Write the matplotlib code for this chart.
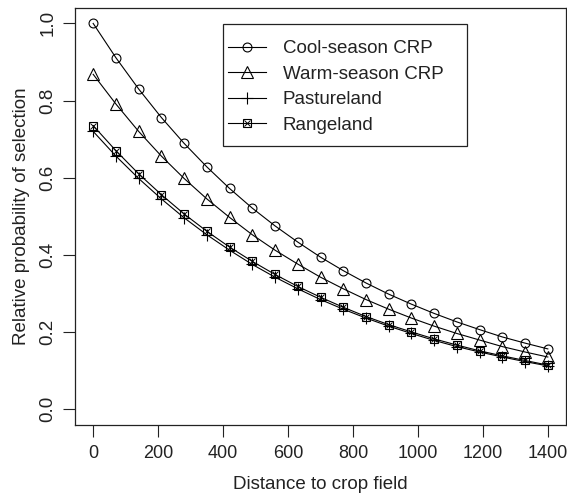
import matplotlib
matplotlib.use("Agg")
import matplotlib.pyplot as plt
from matplotlib.patches import Rectangle

plt.rcParams['font.family'] = ['Liberation Sans', 'DejaVu Sans']

# distance to crop field (every 70 units)
distance = [0, 70, 140, 210, 280, 350, 420, 490, 560, 630, 700,
            770, 840, 910, 980, 1050, 1120, 1190, 1260, 1330, 1400]

cool_season = [1.000, 0.911, 0.830, 0.756, 0.689, 0.628, 0.572, 0.521, 0.475, 0.433, 0.394,
               0.359, 0.327, 0.298, 0.272, 0.248, 0.226, 0.206, 0.187, 0.171, 0.156]
warm_season = [0.868, 0.791, 0.720, 0.656, 0.598, 0.545, 0.497, 0.452, 0.412, 0.376, 0.342,
               0.312, 0.284, 0.259, 0.236, 0.215, 0.196, 0.179, 0.162, 0.148, 0.135]
pastureland = [0.720, 0.656, 0.598, 0.545, 0.496, 0.452, 0.412, 0.375, 0.342, 0.312, 0.284,
               0.259, 0.236, 0.215, 0.196, 0.178, 0.162, 0.148, 0.135, 0.123, 0.112]
rangeland = [0.735, 0.670, 0.610, 0.556, 0.506, 0.461, 0.420, 0.383, 0.349, 0.318, 0.290,
             0.264, 0.240, 0.219, 0.200, 0.182, 0.166, 0.151, 0.138, 0.126, 0.114]

labels = ["Cool-season CRP", "Warm-season CRP", "Pastureland", "Rangeland"]
xticks = [0, 200, 400, 600, 800, 1000, 1200, 1400]
yticks = [0.0, 0.2, 0.4, 0.6, 0.8, 1.0]

fontSize = 13.5
lw = 0.8
ink = '#222222'

fig = plt.figure(figsize=(5.67, 4.93), dpi=100)
ax = fig.add_axes([75/567, 1 - 424.5/493, 491/567, 416.5/493])

h1, = ax.plot(distance, cool_season, color='black', lw=lw, marker='o', ms=6.4,
              mfc='none', mec='black', mew=0.8)
h2, = ax.plot(distance, warm_season, color='black', lw=lw, marker='^', ms=8,
              mfc='none', mec='black', mew=0.8)
h3, = ax.plot(distance, pastureland, color='black', lw=lw, marker='+', ms=9,
              mec='black', mew=0.8)
h4a, = ax.plot(distance, rangeland, color='black', lw=lw, marker='s', ms=6,
               mfc='none', mec='black', mew=0.8)
h4b, = ax.plot(distance, rangeland, color='none', lw=0, marker='x', ms=5,
               mec='black', mew=0.7)

# R style axis limits (4% extension)
ax.set_xlim(-56, 1456)
ax.set_ylim(-0.04, 1.04)
ax.set_xticks(xticks)
ax.set_xticklabels([str(t) for t in xticks])
ax.set_yticks(yticks)
ax.set_yticklabels(["%.1f" % t for t in yticks], rotation=90, va='center')

ax.tick_params(axis='both', direction='out', length=8.5, width=0.8, labelsize=fontSize, colors=ink)
ax.tick_params(axis='x', pad=6, labelsize=13)
ax.tick_params(axis='y', pad=5)
for s in ax.spines.values():
    s.set_linewidth(0.9)
    s.set_color(ink)

ax.set_xlabel("Distance to crop field", fontsize=fontSize, labelpad=10.5, color=ink)
ax.set_ylabel("Relative probability of selection", fontsize=fontSize, labelpad=7, color=ink)

# legend box drawn as a plain rectangle, legend itself without frame
to_ax = lambda px, py: ((px - 75) / 491, (424.5 - py) / 416.5)
bx0, by0 = to_ax(223, 146)
bx1, by1 = to_ax(467, 24)
ax.add_patch(Rectangle((bx0, by0), bx1 - bx0, by1 - by0, transform=ax.transAxes,
                       fill=False, edgecolor=ink, lw=0.9, zorder=5))

lx, ly = to_ax(228, 40)
ax.legend([h1, h2, h3, (h4a, h4b)], labels, loc='upper left', bbox_to_anchor=(lx, ly),
          frameon=False, fontsize=fontSize, numpoints=1, handlelength=2.03,
          handletextpad=0.9, labelspacing=0.45, borderpad=0, borderaxespad=0,
          labelcolor=ink)

plt.savefig("out.png", dpi=100)
